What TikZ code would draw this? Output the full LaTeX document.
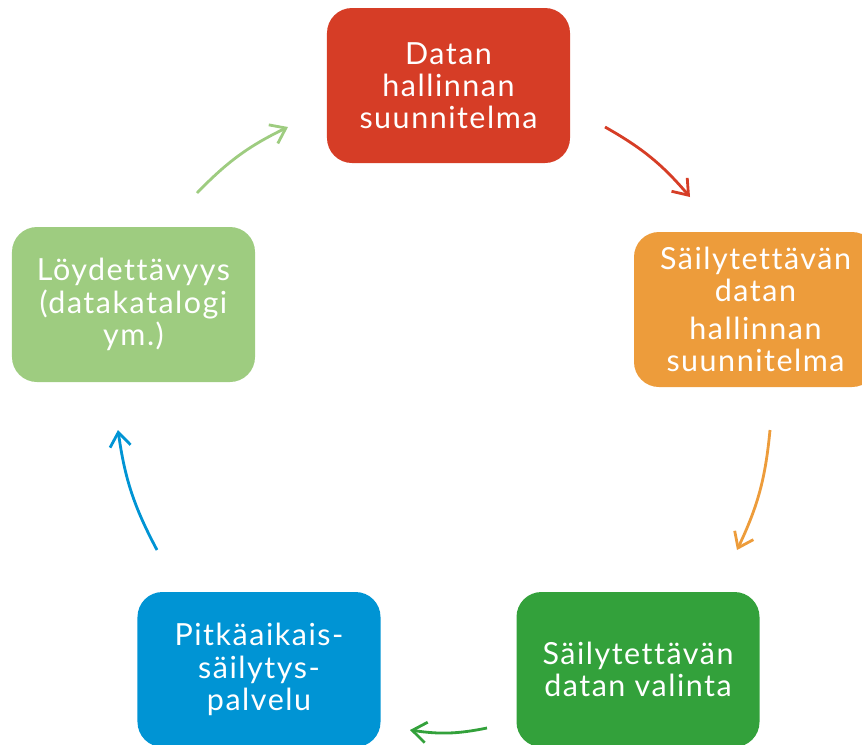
\documentclass[tikz,border=0pt]{standalone}
\usepackage{fontspec}
\setmainfont[LetterSpace=5,Ligatures=NoCommon]{Lato}
\usetikzlibrary{arrows.meta}
\definecolor{PlanClr}{rgb}{0.84,0.24,0.15}
\definecolor{KeepPlanClr}{rgb}{0.93,0.61,0.23}
\definecolor{SelectClr}{rgb}{0.20,0.63,0.23}
\definecolor{ServiceClr}{rgb}{0,0.58,0.83}
\definecolor{FindClr}{rgb}{0.62,0.80,0.50}

\tikzset{
  stagebox/.style={rounded corners=0.75cm,minimum width=7.29cm,minimum height=4.65cm,
    text=white,align=center,font=\fontsize{26}{27.5}\selectfont,inner sep=0pt},
  cyclearrow/.style={line width=2.4pt,-{Straight Barb[length=0.42cm,width=0.62cm,line width=2.4pt]},bend left=10}
}

\begin{document}
\begin{tikzpicture}[x=0.03cm,y=-0.03cm]
\useasboundingbox (0,0) rectangle (862,744);
\clip (0,0) rectangle (862,744);

\node[stagebox,fill=PlanClr] (plan) at (448.5,85.5) {Datan\\hallinnan\\suunnitelma};
\node[stagebox,fill=KeepPlanClr] (keepplan) at (755.5,309.5) {Säilytettävän\\datan\\[5pt]hallinnan\\suunnitelma};
\node[stagebox,fill=SelectClr] (select) at (638,669.5) {Säilytettävän\\datan valinta};
\node[stagebox,fill=ServiceClr] (service) at (259,669.5) {Pitkäaikais-\\säilytys-\\palvelu};
\node[stagebox,fill=FindClr] (find) at (133.5,304.5) {Löydettävyys\\(datakatalogi\\ym.)};

\coordinate (p1) at (605,127);
\coordinate (p2) at (690,197);
\coordinate (k1) at (770,430);
\coordinate (k2) at (737,550);
\coordinate (s1) at (487,728);
\coordinate (s2) at (410,730);
\coordinate (v1) at (157,550);
\coordinate (v2) at (118,430);
\coordinate (f1) at (197,193);
\coordinate (f2) at (288,127);

\draw[cyclearrow,PlanClr] (p1) to (p2);
\draw[cyclearrow,KeepPlanClr] (k1) to (k2);
\draw[cyclearrow,SelectClr] (s1) to (s2);
\draw[cyclearrow,ServiceClr] (v1) to (v2);
\draw[cyclearrow,FindClr] (f1) to (f2);

\end{tikzpicture}
\end{document}
